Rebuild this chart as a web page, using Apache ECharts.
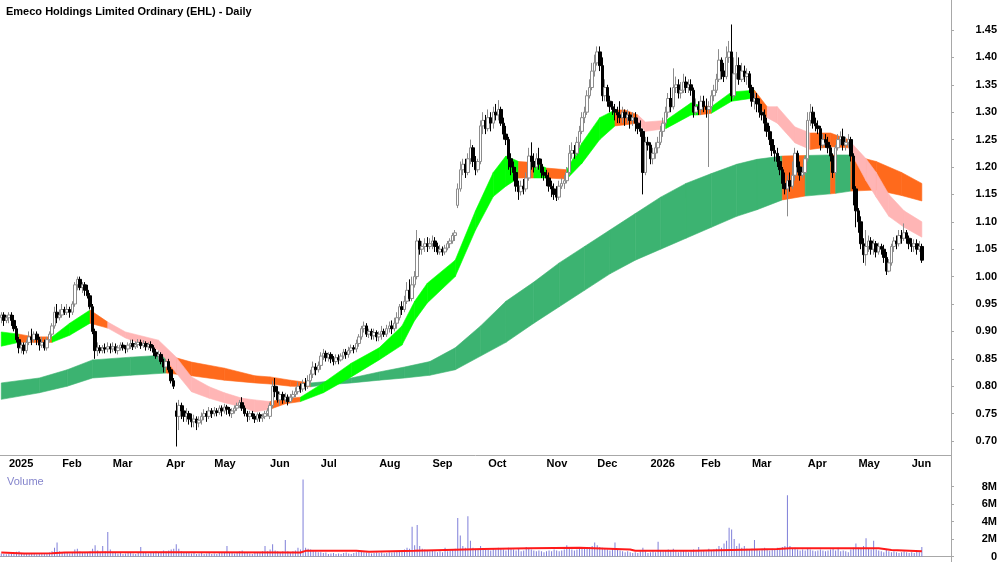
<!DOCTYPE html>
<html style="height: 100%">
<head>
    <meta charset="utf-8">
</head>
<body style="height: 100%; margin: 0; background: #fff">
<div id="container" style="width: 1000px; height: 562px"></div>
<script type="text/javascript" src="https://cdn.jsdelivr.net/npm/echarts@6/dist/echarts.min.js"></script>
<script type="text/javascript">
// ASX holidays inside the range, trading days are built from weekdays minus these
var holidays = ['2025-01-01', '2025-01-27', '2025-04-18', '2025-04-21', '2025-04-25', '2025-06-09',
    '2025-12-25', '2025-12-26', '2026-01-01', '2026-01-26', '2026-04-03', '2026-04-06'];
var monthNames = ['Jan', 'Feb', 'Mar', 'Apr', 'May', 'Jun', 'Jul', 'Aug', 'Sep', 'Oct', 'Nov', 'Dec'];
var priceTicks = [0.70, 0.75, 0.80, 0.85, 0.90, 0.95, 1.00, 1.05, 1.10, 1.15, 1.20, 1.25, 1.30, 1.35, 1.40, 1.45];
var volumeTicks = [0, 2, 4, 6, 8];

// daily candles: [open, close, low, high]
var ohlc = [
    // Dec 2024
    [.925, .93, .915, .935], [.93, .92, .91, .935], [.92, .925, .915, .93],
    // Jan 2025
    [.925, .93, .915, .935], [.93, .92, .91, .935], [.92, .905, .90, .93], [.905, .885, .88, .91],
    [.885, .87, .86, .89], [.87, .875, .86, .88], [.875, .865, .858, .88], [.865, .88, .86, .885],
    [.88, .89, .875, .90], [.89, .885, .875, .905], [.885, .895, .88, .90], [.895, .885, .875, .90],
    [.885, .875, .865, .89], [.875, .88, .87, .89], [.88, .87, .865, .885], [.87, .885, .865, .89],
    [.885, .895, .88, .90], [.895, .91, .89, .915], [.91, .935, .905, .945], [.935, .925, .915, .95],
    [.925, .93, .92, .94],
    // Feb
    [.93, .94, .925, .95], [.94, .935, .93, .945], [.935, .94, .93, .95], [.94, .935, .925, .945],
    [.935, .95, .93, .955], [.95, .985, .945, .99], [.985, .995, .975, 1.0], [.995, .98, .975, 1.0],
    [.98, .985, .97, .99], [.985, .975, .965, .99], [.975, .965, .96, .985], [.965, .945, .94, .97],
    [.945, .90, .895, .95], [.90, .865, .85, .905], [.865, .87, .855, .88], [.87, .865, .86, .875],
    [.865, .87, .86, .875], [.87, .868, .86, .878], [.868, .872, .862, .88], [.872, .868, .86, .878],
    // Mar
    [.868, .872, .862, .88], [.872, .865, .86, .878], [.865, .87, .858, .875], [.87, .875, .865, .88],
    [.875, .87, .865, .88], [.87, .868, .86, .875], [.868, .875, .862, .88], [.875, .878, .868, .885],
    [.878, .872, .866, .885], [.872, .876, .868, .882], [.876, .88, .87, .886], [.88, .874, .868, .885],
    [.874, .878, .87, .884], [.878, .872, .865, .882], [.872, .876, .866, .88], [.876, .87, .864, .882],
    [.87, .862, .855, .875], [.862, .855, .85, .868], [.855, .858, .848, .865], [.858, .845, .84, .862],
    [.845, .835, .825, .85],
    // Apr
    [.835, .845, .83, .85], [.845, .83, .825, .85], [.83, .81, .805, .835], [.81, .80, .795, .815],
    [.755, .745, .69, .77], [.745, .765, .72, .775], [.765, .755, .74, .77], [.755, .745, .735, .765],
    [.745, .75, .735, .76], [.75, .74, .73, .755], [.74, .735, .725, .75], [.735, .74, .725, .748],
    [.74, .733, .72, .745], [.733, .738, .725, .745], [.738, .745, .73, .752], [.745, .75, .738, .758],
    [.75, .745, .735, .755], [.745, .755, .74, .762], [.755, .75, .742, .76],
    // May
    [.75, .755, .745, .762], [.755, .752, .745, .76], [.752, .76, .748, .765], [.76, .755, .745, .765],
    [.755, .762, .75, .768], [.762, .758, .748, .766], [.758, .75, .745, .762], [.75, .755, .742, .76],
    [.755, .76, .75, .765], [.76, .765, .755, .77], [.765, .77, .76, .775], [.77, .76, .755, .78],
    [.76, .75, .745, .765], [.75, .745, .735, .755], [.745, .75, .738, .755], [.75, .745, .74, .755],
    [.745, .74, .733, .75], [.74, .748, .735, .752], [.748, .742, .735, .752], [.742, .745, .735, .75],
    [.745, .75, .74, .755], [.75, .755, .745, .76],
    // Jun
    [.745, .765, .74, .77], [.765, .80, .76, .81], [.80, .79, .78, .815], [.79, .775, .77, .80],
    [.775, .785, .765, .79], [.785, .775, .768, .79], [.775, .78, .77, .788], [.78, .772, .765, .785],
    [.772, .78, .77, .786], [.78, .785, .775, .792], [.785, .79, .78, .798], [.79, .80, .785, .808],
    [.80, .795, .788, .805], [.795, .805, .79, .812], [.805, .80, .792, .815], [.80, .81, .795, .82],
    [.81, .822, .805, .83], [.822, .835, .815, .845], [.835, .83, .82, .842], [.83, .838, .825, .845],
    // Jul
    [.838, .855, .83, .862], [.855, .86, .848, .868], [.86, .852, .845, .865], [.852, .858, .845, .862],
    [.858, .85, .842, .862], [.85, .845, .838, .855], [.845, .852, .84, .858], [.852, .848, .84, .858],
    [.848, .855, .845, .86], [.855, .862, .85, .868], [.862, .858, .85, .868], [.858, .865, .852, .872],
    [.865, .87, .86, .876], [.87, .868, .86, .875], [.868, .878, .862, .885], [.878, .89, .872, .895],
    [.89, .905, .885, .91], [.905, .91, .898, .918], [.91, .895, .89, .915], [.895, .90, .888, .905],
    [.90, .892, .885, .905], [.892, .898, .885, .905], [.898, .89, .882, .902],
    // Aug
    [.89, .895, .882, .90], [.895, .90, .885, .91], [.90, .895, .89, .905], [.895, .905, .89, .912],
    [.905, .91, .898, .918], [.91, .905, .895, .92], [.905, .915, .90, .925], [.915, .925, .905, .935],
    [.925, .945, .92, .95], [.945, .94, .93, .955], [.94, .955, .935, .965], [.955, .975, .95, .99],
    [.975, .96, .955, .995], [.96, .985, .955, 1.0], [.985, 1.0, .98, 1.01], [1.0, 1.065, .995, 1.085],
    [1.065, 1.05, 1.04, 1.07], [1.05, 1.055, 1.04, 1.065], [1.055, 1.06, 1.045, 1.07], [1.06, 1.055, 1.045, 1.072],
    [1.055, 1.06, 1.05, 1.07],
    // Sep
    [1.06, 1.065, 1.05, 1.075], [1.065, 1.055, 1.045, 1.072], [1.055, 1.045, 1.04, 1.062], [1.045, 1.05, 1.04, 1.058],
    [1.05, 1.045, 1.038, 1.055], [1.045, 1.052, 1.04, 1.058], [1.052, 1.06, 1.048, 1.065], [1.06, 1.065, 1.052, 1.07],
    [1.065, 1.075, 1.06, 1.08], [1.075, 1.08, 1.065, 1.085], [1.13, 1.16, 1.125, 1.17], [1.16, 1.195, 1.155, 1.21],
    [1.195, 1.205, 1.185, 1.215], [1.205, 1.19, 1.18, 1.215], [1.19, 1.215, 1.185, 1.225], [1.215, 1.235, 1.205, 1.25],
    [1.235, 1.21, 1.20, 1.24], [1.21, 1.195, 1.185, 1.22], [1.195, 1.21, 1.19, 1.215], [1.21, 1.275, 1.205, 1.285],
    [1.275, 1.285, 1.26, 1.30], [1.285, 1.27, 1.26, 1.295],
    // Oct
    [1.27, 1.29, 1.265, 1.305], [1.29, 1.28, 1.265, 1.30], [1.28, 1.30, 1.27, 1.31], [1.30, 1.295, 1.285, 1.315],
    [1.295, 1.305, 1.285, 1.322], [1.305, 1.28, 1.275, 1.31], [1.28, 1.26, 1.25, 1.29], [1.26, 1.25, 1.24, 1.275],
    [1.25, 1.215, 1.195, 1.255], [1.215, 1.20, 1.185, 1.225], [1.20, 1.19, 1.175, 1.21], [1.19, 1.165, 1.155, 1.20],
    [1.165, 1.155, 1.14, 1.175], [1.155, 1.165, 1.148, 1.175], [1.165, 1.16, 1.15, 1.178], [1.16, 1.18, 1.155, 1.19],
    [1.18, 1.22, 1.175, 1.235], [1.22, 1.21, 1.195, 1.245], [1.21, 1.20, 1.19, 1.225], [1.20, 1.215, 1.195, 1.225],
    [1.215, 1.205, 1.195, 1.235], [1.205, 1.19, 1.18, 1.215], [1.19, 1.185, 1.175, 1.20],
    // Nov
    [1.185, 1.18, 1.165, 1.195], [1.18, 1.165, 1.155, 1.19], [1.165, 1.16, 1.145, 1.175], [1.16, 1.15, 1.14, 1.17],
    [1.15, 1.145, 1.138, 1.165], [1.145, 1.165, 1.14, 1.175], [1.165, 1.17, 1.16, 1.18], [1.17, 1.175, 1.16, 1.185],
    [1.175, 1.19, 1.17, 1.20], [1.19, 1.225, 1.185, 1.24], [1.225, 1.23, 1.215, 1.245], [1.23, 1.225, 1.215, 1.24],
    [1.225, 1.245, 1.22, 1.255], [1.245, 1.265, 1.235, 1.275], [1.265, 1.29, 1.26, 1.30], [1.29, 1.30, 1.28, 1.31],
    [1.30, 1.33, 1.295, 1.34], [1.33, 1.345, 1.325, 1.36], [1.345, 1.375, 1.34, 1.39], [1.375, 1.39, 1.365, 1.405],
    // Dec
    [1.39, 1.41, 1.385, 1.42], [1.41, 1.385, 1.375, 1.42], [1.385, 1.33, 1.32, 1.40], [1.33, 1.345, 1.32, 1.36],
    [1.345, 1.32, 1.31, 1.35], [1.32, 1.31, 1.30, 1.33], [1.31, 1.305, 1.295, 1.32], [1.305, 1.30, 1.285, 1.315],
    [1.30, 1.295, 1.28, 1.31], [1.295, 1.29, 1.28, 1.32], [1.29, 1.30, 1.28, 1.31], [1.30, 1.29, 1.275, 1.305],
    [1.29, 1.295, 1.28, 1.305], [1.295, 1.285, 1.27, 1.30], [1.285, 1.29, 1.275, 1.30], [1.29, 1.28, 1.265, 1.30],
    [1.28, 1.27, 1.26, 1.29], [1.27, 1.265, 1.255, 1.285], [1.265, 1.19, 1.15, 1.27], [1.19, 1.245, 1.185, 1.255],
    [1.245, 1.24, 1.23, 1.255],
    // Jan 2026
    [1.24, 1.215, 1.205, 1.245], [1.215, 1.225, 1.205, 1.235], [1.225, 1.235, 1.215, 1.245], [1.235, 1.245, 1.225, 1.255],
    [1.245, 1.265, 1.24, 1.275], [1.265, 1.28, 1.255, 1.29], [1.28, 1.30, 1.275, 1.31], [1.30, 1.325, 1.29, 1.335],
    [1.325, 1.31, 1.30, 1.345], [1.31, 1.345, 1.305, 1.38], [1.345, 1.35, 1.335, 1.365], [1.35, 1.335, 1.325, 1.36],
    [1.335, 1.34, 1.325, 1.355], [1.34, 1.355, 1.335, 1.37], [1.355, 1.345, 1.335, 1.365], [1.345, 1.35, 1.335, 1.36],
    [1.35, 1.34, 1.33, 1.36], [1.34, 1.30, 1.29, 1.345], [1.30, 1.31, 1.295, 1.325], [1.31, 1.305, 1.295, 1.32],
    // Feb
    [1.305, 1.32, 1.295, 1.33], [1.32, 1.31, 1.30, 1.33], [1.31, 1.305, 1.29, 1.325], [1.305, 1.31, 1.20, 1.32],
    [1.31, 1.33, 1.30, 1.34], [1.33, 1.34, 1.32, 1.35], [1.34, 1.36, 1.335, 1.37], [1.36, 1.395, 1.355, 1.415],
    [1.395, 1.375, 1.36, 1.40], [1.375, 1.365, 1.355, 1.39], [1.365, 1.40, 1.36, 1.42], [1.40, 1.41, 1.39, 1.43],
    [1.41, 1.33, 1.32, 1.46], [1.33, 1.37, 1.325, 1.40], [1.37, 1.385, 1.36, 1.41], [1.385, 1.36, 1.35, 1.40],
    [1.36, 1.375, 1.355, 1.39], [1.375, 1.365, 1.355, 1.385], [1.365, 1.37, 1.35, 1.38], [1.37, 1.345, 1.335, 1.375],
    // Mar
    [1.345, 1.32, 1.31, 1.35], [1.32, 1.325, 1.305, 1.335], [1.325, 1.315, 1.30, 1.335], [1.315, 1.30, 1.29, 1.325],
    [1.30, 1.295, 1.285, 1.315], [1.295, 1.28, 1.265, 1.305], [1.28, 1.265, 1.255, 1.29], [1.265, 1.25, 1.24, 1.275],
    [1.25, 1.23, 1.22, 1.265], [1.23, 1.225, 1.21, 1.24], [1.225, 1.21, 1.20, 1.235], [1.21, 1.195, 1.185, 1.22],
    [1.195, 1.17, 1.16, 1.20], [1.17, 1.16, 1.15, 1.19], [1.16, 1.175, 1.11, 1.185], [1.175, 1.165, 1.155, 1.19],
    [1.165, 1.185, 1.16, 1.21], [1.185, 1.225, 1.175, 1.235], [1.225, 1.20, 1.19, 1.23], [1.20, 1.185, 1.175, 1.21],
    [1.185, 1.19, 1.18, 1.20], [1.19, 1.215, 1.185, 1.22],
    // Apr
    [1.215, 1.285, 1.21, 1.30], [1.285, 1.30, 1.275, 1.315], [1.30, 1.28, 1.27, 1.31], [1.28, 1.275, 1.265, 1.29],
    [1.275, 1.27, 1.26, 1.285], [1.27, 1.24, 1.23, 1.275], [1.24, 1.25, 1.235, 1.26], [1.25, 1.245, 1.235, 1.26],
    [1.245, 1.235, 1.225, 1.255], [1.235, 1.22, 1.21, 1.24], [1.22, 1.19, 1.18, 1.225], [1.19, 1.235, 1.185, 1.24],
    [1.235, 1.25, 1.23, 1.26], [1.25, 1.255, 1.24, 1.265], [1.255, 1.24, 1.23, 1.27], [1.24, 1.245, 1.23, 1.255],
    [1.245, 1.25, 1.235, 1.26], [1.25, 1.22, 1.21, 1.255], [1.22, 1.16, 1.13, 1.225], [1.16, 1.12, 1.09, 1.165],
    // May
    [1.12, 1.10, 1.08, 1.125], [1.10, 1.06, 1.05, 1.11], [1.06, 1.04, 1.025, 1.07], [1.04, 1.055, 1.02, 1.085],
    [1.055, 1.065, 1.045, 1.075], [1.065, 1.05, 1.04, 1.072], [1.05, 1.06, 1.04, 1.068], [1.06, 1.045, 1.035, 1.065],
    [1.045, 1.055, 1.04, 1.062], [1.055, 1.05, 1.04, 1.06], [1.05, 1.035, 1.025, 1.058], [1.035, 1.01, 1.003, 1.045],
    [1.01, 1.025, 1.008, 1.032], [1.025, 1.055, 1.02, 1.06], [1.055, 1.065, 1.045, 1.072], [1.065, 1.06, 1.05, 1.075],
    [1.06, 1.075, 1.055, 1.085], [1.075, 1.07, 1.06, 1.085], [1.07, 1.08, 1.065, 1.097], [1.08, 1.07, 1.06, 1.085],
    [1.07, 1.06, 1.05, 1.075],
    // Jun
    [1.06, 1.055, 1.045, 1.07], [1.055, 1.06, 1.045, 1.068], [1.06, 1.05, 1.04, 1.068], [1.05, 1.055, 1.045, 1.065],
    [1.055, 1.03, 1.025, 1.06]
];

// daily volume, millions
var volume = [
    0.35, 0.3, 0.25,
    0.3, 0.35, 0.4, 0.55, 0.6, 0.4, 0.35, 0.3, 0.4, 0.3, 0.35, 0.25, 0.3, 0.4, 0.35, 0.3, 0.45, 0.6, 1.0, 1.6, 0.6,
    0.5, 0.45, 0.4, 0.35, 0.5, 0.8, 0.9, 0.6, 0.5, 0.45, 0.4, 0.6, 0.9, 1.3, 0.7, 0.5, 1.2, 0.6, 2.8, 0.8,
    0.5, 0.4, 0.35, 0.4, 0.3, 0.35, 0.45, 0.4, 0.35, 0.3, 0.4, 1.1, 0.5, 0.4, 0.35, 0.45, 0.5, 0.6, 0.5, 0.55, 0.7,
    0.6, 0.7, 0.8, 0.9, 1.4, 0.9, 0.6, 0.5, 0.45, 0.4, 0.35, 0.4, 0.3, 0.35, 0.4, 0.3, 0.35, 0.4, 0.3,
    0.35, 0.3, 0.4, 0.45, 0.5, 1.2, 0.5, 0.4, 0.35, 0.5, 0.6, 0.7, 0.5, 0.4, 0.35, 0.3, 0.4, 0.45, 0.5, 0.6, 1.2, 0.6,
    0.8, 1.4, 0.7, 0.6, 0.5, 0.6, 1.9, 0.6, 0.5, 0.6, 0.7, 1.0, 0.8, 8.8, 1.0, 0.9, 0.8, 0.7, 0.6, 0.5,
    0.5, 0.4, 0.45, 0.3, 0.35, 0.4, 0.3, 0.35, 0.3, 0.4, 0.45, 0.35, 0.3, 0.4, 0.5, 0.6, 0.55, 0.5, 0.45, 0.4, 0.35, 0.4, 0.45,
    0.4, 0.45, 0.35, 0.4, 0.5, 0.45, 0.5, 0.6, 0.7, 0.6, 0.8, 1.0, 0.9, 3.4, 1.3, 3.6, 1.2, 0.9, 0.8, 0.7, 0.6,
    0.7, 0.6, 0.5, 0.6, 0.5, 1.0, 0.6, 0.7, 0.8, 0.9, 4.4, 2.4, 1.2, 1.0, 4.6, 1.8, 1.0, 0.9, 0.8, 1.2, 0.9, 0.8,
    0.8, 0.7, 0.9, 0.8, 1.0, 0.9, 0.8, 0.7, 1.0, 0.9, 0.8, 0.7, 0.9, 0.6, 0.7, 1.1, 0.9, 0.8, 0.7, 0.6, 0.7, 0.6, 0.5,
    0.6, 0.7, 0.6, 0.8, 0.7, 0.6, 0.7, 0.8, 1.3, 0.9, 0.8, 0.7, 0.8, 0.9, 1.0, 0.9, 1.0, 1.1, 1.2, 1.6,
    1.3, 1.1, 1.0, 0.9, 0.8, 0.7, 0.9, 1.6, 0.8, 0.7, 0.6, 0.5, 0.6, 0.5, 0.4, 0.5, 0.4, 0.6, 1.0, 0.6, 0.4,
    0.5, 0.6, 0.5, 1.7, 0.7, 0.6, 0.7, 0.8, 0.7, 0.9, 0.6, 0.5, 0.6, 0.7, 0.6, 0.5, 0.6, 0.8, 0.6, 1.1,
    0.6, 0.7, 0.6, 0.9, 0.7, 0.8, 0.9, 1.2, 1.0, 1.5, 1.8, 3.3, 3.1, 2.0, 1.2, 1.5, 1.0, 1.2, 0.9, 0.8,
    0.9, 1.9, 0.8, 0.7, 0.9, 1.0, 0.8, 0.7, 0.9, 0.8, 1.0, 0.9, 1.1, 1.2, 7.0, 1.2, 0.9, 1.0, 0.8, 0.7, 0.8, 0.7,
    0.9, 0.8, 0.7, 0.6, 0.7, 0.8, 0.7, 0.6, 0.7, 0.8, 0.9, 0.7, 1.0, 0.6, 0.7, 0.6, 0.5, 0.8, 1.0, 1.5,
    1.0, 0.9, 1.2, 2.1, 0.9, 0.8, 1.8, 0.8, 0.7, 0.6, 0.5, 0.8, 0.6, 0.5, 0.6, 0.5, 0.4, 0.5, 0.6, 0.5, 0.4,
    0.5, 0.4, 0.6, 0.5, 1.1
];

// volume average: [day index, millions]
var volumeAvg = [
    [0, 0.45], [9, 0.35], [20, 0.38], [25, 0.45], [40, 0.48], [75, 0.48], [118, 0.45], [120, 0.65],
    [140, 0.65], [145, 0.55], [163, 0.65], [175, 0.75], [190, 0.85], [208, 0.95], [228, 1.0], [248, 0.8],
    [250, 0.65], [273, 0.65], [288, 0.75], [306, 0.85], [311, 0.95], [346, 0.95], [351, 0.75], [363, 0.6]
];

// slow ribbon edges: day index, upper, lower, trend state (u up, d down)
var slowIdx   = [0, 15, 26, 36, 51, 65, 75, 88, 100, 106, 114, 122, 127, 138, 149, 159, 169, 179, 189, 199,
                 210, 220, 230, 240, 250, 260, 270, 280, 290, 298, 308, 317, 327, 329, 335, 345, 355, 363];
var slowTop   = [.806, .815, .83, .848, .853, .857, .844, .833, .819, .817, .811, .806, .808, .815, .826, .835, .845, .87, .91, .955,
                 .99, 1.025, 1.055, 1.085, 1.115, 1.145, 1.17, 1.188, 1.205, 1.214, 1.22, 1.221, 1.222, 1.222, 1.222, 1.21, 1.19, 1.17];
var slowBot   = [.776, .788, .80, .815, .82, .824, .819, .811, .806, .804, .80, .799, .802, .806, .811, .815, .82, .83, .855, .88,
                 .915, .945, .975, 1.005, 1.03, 1.05, 1.07, 1.09, 1.11, 1.122, 1.14, 1.147, 1.151, 1.152, 1.156, 1.158, 1.148, 1.138];
var slowState = ['u', 'u', 'u', 'u', 'u', 'd', 'd', 'd', 'd', 'd', 'd', 'u', 'u', 'u', 'u', 'u', 'u', 'u', 'u', 'u',
                 'u', 'u', 'u', 'u', 'u', 'u', 'u', 'u', 'u', 'u', 'd', 'u', 'd', 'u', 'd', 'd', 'd', 'd'];

// fast ribbon edges: u up, f flat/turning, d down
var fastIdx   = [0, 7, 13, 20, 27, 35, 42, 49, 62, 69, 75, 82, 88, 95, 100, 106, 112, 118, 127, 138,
                 149, 158, 163, 168, 179, 187, 194, 199, 204, 210, 215, 223, 229, 236, 242, 246, 251, 254, 262, 272,
                 275, 280, 288, 297, 302, 306, 313, 319, 327, 334, 341, 345, 350, 356, 363];
var fastTop   = [.899, .895, .89, .89, .915, .939, .917, .899, .884, .853, .817, .799, .788, .778, .775, .772, .777, .78, .806, .842,
                 .87, .91, .955, .988, 1.03, 1.12, 1.19, 1.22, 1.21, 1.208, 1.198, 1.195, 1.244, 1.29, 1.304, 1.304, 1.295, 1.282, 1.285, 1.317,
                 1.313, 1.31, 1.337, 1.34, 1.31, 1.31, 1.273, 1.262, 1.262, 1.25, 1.215, 1.19, 1.15, 1.12, 1.10];
var fastBot   = [.873, .88, .88, .88, .893, .915, .906, .888, .866, .824, .79, .778, .77, .762, .753, .758, .768, .772, .788, .817,
                 .848, .875, .92, .952, 1.0, 1.085, 1.146, 1.165, 1.18, 1.18, 1.18, 1.178, 1.207, 1.25, 1.275, 1.277, 1.28, 1.265, 1.27, 1.295,
                 1.295, 1.298, 1.32, 1.326, 1.29, 1.28, 1.244, 1.232, 1.237, 1.235, 1.175, 1.145, 1.11, 1.09, 1.072];
var fastState = ['u', 'f', 'f', 'u', 'u', 'f', 'd', 'd', 'd', 'd', 'd', 'd', 'd', 'd', 'd', 'f', 'f', 'u', 'u', 'u',
                 'u', 'u', 'u', 'u', 'u', 'u', 'u', 'u', 'f', 'u', 'f', 'u', 'u', 'u', 'f', 'f', 'd', 'd', 'u', 'u',
                 'f', 'u', 'u', 'f', 'd', 'd', 'd', 'f', 'f', 'd', 'd', 'd', 'd', 'd', 'd'];

var stateNames = ['u', 'f', 'd'];
var slowColors = ['#3cb371', '#ff6a1c', '#ff6a1c'];
var fastColors = ['#00ff00', '#ff6a1c', '#ffb5b5'];

var dates = [];
(function () {
    var d = new Date(Date.UTC(2024, 11, 27));
    var end = Date.UTC(2026, 5, 5);
    while (d.getTime() <= end) {
        var wd = d.getUTCDay();
        var s = d.toISOString().slice(0, 10);
        if (wd > 0 && wd < 6 && holidays.indexOf(s) < 0) dates.push(s);
        d.setUTCDate(d.getUTCDate() + 1);
    }
    // empty room on the right of the last bar
    for (var k = 0; k < 11; k++) dates.push('');
})();

function isMonthStart(index) {
    return index > 0 && dates[index] !== '' && dates[index].slice(0, 7) !== dates[index - 1].slice(0, 7);
}

function ribbonData(idx, top, bot, state) {
    var out = [];
    for (var k = 0; k < idx.length - 1; k++) {
        out.push([idx[k], top[k], bot[k], idx[k + 1], top[k + 1], bot[k + 1], stateNames.indexOf(state[k])]);
    }
    return out;
}

function makeRibbon(colors) {
    return function (params, api) {
        var a = api.coord([api.value(0), api.value(1)]);
        var b = api.coord([api.value(3), api.value(4)]);
        var c = api.coord([api.value(3), api.value(5)]);
        var d = api.coord([api.value(0), api.value(2)]);
        var col = colors[api.value(6)];
        return {
            type: 'polygon',
            shape: { points: [a, b, c, d] },
            style: { fill: col, stroke: col, lineWidth: 0.6 }
        };
    };
}

var dom = document.getElementById("container");
var myChart = echarts.init(dom, null, { renderer: 'canvas' });
var font = 'Liberation Sans, Arial, sans-serif';

var option = {
    animation: false,
    backgroundColor: '#ffffff',
    title: [{
        text: 'Emeco Holdings Limited Ordinary (EHL) - Daily',
        left: 1, top: 1,
        textStyle: { fontSize: 11, fontWeight: 'bold', color: '#000', fontFamily: font }
    }, {
        text: 'Volume',
        left: 2, top: 471,
        textStyle: { fontSize: 11, fontWeight: 'normal', color: '#8585cc', fontFamily: font }
    }],
    grid: [
        { left: 0, right: 49, top: 0, height: 455 },
        { left: 0, right: 49, top: 470, height: 88 }
    ],
    xAxis: [{
        type: 'category', gridIndex: 0, data: dates, boundaryGap: true,
        axisLine: { lineStyle: { color: '#a8a8a8', width: 1 } },
        axisTick: { inside: true, length: 3, alignWithLabel: true, interval: isMonthStart, lineStyle: { color: '#a8a8a8' } },
        axisLabel: {
            interval: isMonthStart, hideOverlap: false, align: 'left', margin: 3,
            fontSize: 11, fontWeight: 'bold', color: '#000', fontFamily: font,
            formatter: function (v) {
                if (!v) return '';
                var m = +v.slice(5, 7) - 1;
                return m === 0 ? v.slice(0, 4) : monthNames[m];
            }
        },
        splitLine: { show: false }
    }, {
        type: 'category', gridIndex: 1, data: dates, boundaryGap: true, position: 'top',
        axisLine: { lineStyle: { color: '#a8a8a8', width: 1 } },
        axisTick: { show: false }, axisLabel: { show: false }, splitLine: { show: false }
    }],
    yAxis: [{
        type: 'value', gridIndex: 0, position: 'right', min: 0.6745, max: 1.5047,
        axisLine: { show: true, lineStyle: { color: '#a8a8a8' } },
        axisTick: { show: true, length: 3, customValues: priceTicks, lineStyle: { color: '#a8a8a8' } },
        axisLabel: {
            customValues: priceTicks, align: 'right', margin: 46,
            fontSize: 11, fontWeight: 'bold', color: '#000', fontFamily: font,
            formatter: function (v) { return v.toFixed(2); }
        },
        splitLine: { show: false }
    }, {
        type: 'value', gridIndex: 1, position: 'right', min: 0, max: 9.9,
        axisLine: { show: true, lineStyle: { color: '#a8a8a8' } },
        axisTick: { show: true, length: 3, customValues: volumeTicks, lineStyle: { color: '#a8a8a8' } },
        axisLabel: {
            customValues: volumeTicks, align: 'right', margin: 46,
            fontSize: 11, fontWeight: 'bold', color: '#000', fontFamily: font,
            formatter: function (v) { return v === 0 ? '0' : v + 'M'; }
        },
        splitLine: { show: false }
    }],
    graphic: [{
        type: 'line', silent: true,
        shape: { x1: 951.5, y1: 0, x2: 951.5, y2: 562 },
        style: { stroke: '#a8a8a8', lineWidth: 1 }
    }],
    series: [{
        type: 'custom', name: 'slow ribbon', xAxisIndex: 0, yAxisIndex: 0,
        renderItem: makeRibbon(slowColors),
        data: ribbonData(slowIdx, slowTop, slowBot, slowState),
        encode: { x: [0, 3], y: [1, 2, 4, 5] },
        silent: true, clip: true, z: 1
    }, {
        type: 'custom', name: 'fast ribbon', xAxisIndex: 0, yAxisIndex: 0,
        renderItem: makeRibbon(fastColors),
        data: ribbonData(fastIdx, fastTop, fastBot, fastState),
        encode: { x: [0, 3], y: [1, 2, 4, 5] },
        silent: true, clip: true, z: 2
    }, {
        type: 'candlestick', name: 'EHL', xAxisIndex: 0, yAxisIndex: 0,
        data: ohlc, barWidth: 3,
        itemStyle: { color: '#ffffff', color0: '#000000', borderColor: '#8c8c8c', borderColor0: '#000000', borderWidth: 1 },
        z: 3
    }, {
        type: 'bar', name: 'Volume', xAxisIndex: 1, yAxisIndex: 1,
        data: volume, barWidth: 1,
        itemStyle: { color: '#7f7fd9' },
        z: 2
    }, {
        type: 'line', name: 'Volume avg', xAxisIndex: 1, yAxisIndex: 1,
        data: volumeAvg, showSymbol: false, symbol: 'none',
        lineStyle: { color: '#ff1a1a', width: 2 },
        z: 3
    }]
};

myChart.setOption(option);
</script>
</body>
</html>
